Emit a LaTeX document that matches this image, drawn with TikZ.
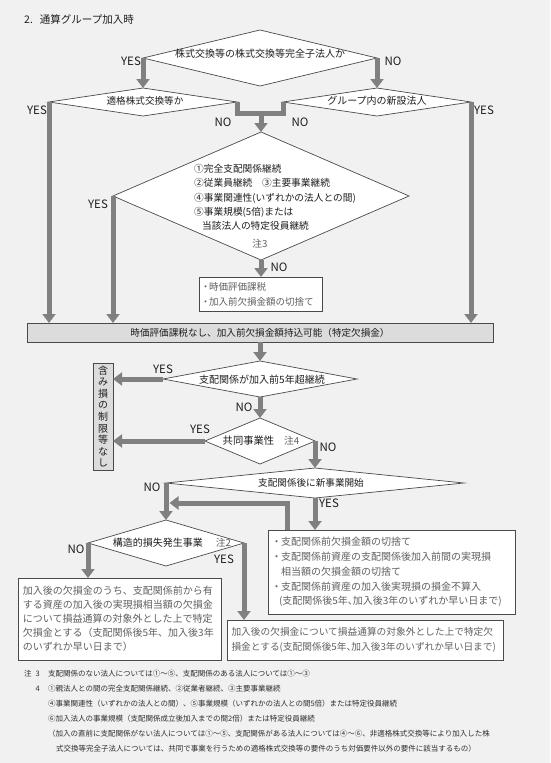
\documentclass[tikz,border=0pt]{standalone}
\usepackage{fontspec}
\setmainfont{Noto Sans CJK JP}
\usetikzlibrary{shapes.geometric,arrows.meta,calc}
\definecolor{bgc}{HTML}{F1F1F1}
\definecolor{arrc}{HTML}{808080}
\definecolor{edgec}{HTML}{4A4A4A}
\definecolor{txtc}{HTML}{1E1E1E}
\definecolor{txtgc}{HTML}{606060}
\definecolor{fnc}{HTML}{2E2E2E}
\definecolor{barc}{HTML}{DCDCDC}
\newcommand{\jfs}[2]{\fontsize{#1}{#2}\selectfont}
\newcommand{\blt}[1]{\makebox[#1][c]{・}}
\newcommand{\hc}{\makebox[0.5em][l]{、}}
\begin{document}
\begin{tikzpicture}[x=1pt,y=-1pt,
  dia/.style={diamond, draw=edgec, line width=0.7pt, fill=white, inner sep=0pt, outer sep=0pt},
  tbox/.style={draw=edgec, line width=0.7pt, fill=white, inner ysep=0pt, outer sep=0pt, align=left, text=txtgc, anchor=north west},
  graybox/.style={draw=edgec, line width=0.7pt, fill=barc, inner sep=0pt, outer sep=0pt, text=txtc},
  pipe/.style={draw=arrc, line width=5pt},
  arr/.style={pipe, -{Triangle[width=13pt,length=9pt]}},
  yn/.style={font=\jfs{11.5}{12}, text=txtc, inner sep=0pt},
  dtext/.style={text=txtc, inner sep=0pt},
  fn/.style={font=\jfs{7.5}{9}, text=fnc, inner sep=0pt, anchor=base west}]
\useasboundingbox (0,0) rectangle (550,763);
\fill[bgc] (0,0) rectangle (550,763);

% title
\node[anchor=west, inner sep=0pt, text=txtc, font=\jfs{10.5}{12}] (title) at (24,19) {2.\hspace{7pt}通算グループ加入時};

% diamonds
\node[dia, minimum width=234pt, minimum height=56pt] (d1) at (260,58) {};
\node[dtext, font=\jfs{10}{11}] (t1) at (260,54) {株式交換等の株式交換等完全子法人か};
\node[dia, minimum width=188pt, minimum height=28pt] (d2) at (143,102) {};
\node[dtext, font=\jfs{9.6}{11}] (t2) at (145,101) {適格株式交換等か};
\node[dia, minimum width=188pt, minimum height=28pt] (d3) at (377,102) {};
\node[dtext, font=\jfs{10}{11}] (t3) at (377,101) {グループ内の新設法人};

\node[dia, minimum width=296pt, minimum height=128pt] (db) at (261,196) {};
\node[dtext, anchor=west, align=left, font=\jfs{9.7}{14.25}] (tb) at (194,197.5)
  {①完全支配関係継続\\②従業員継続　③主要事業継続\\④事業関連性(いずれかの法人との間)\\⑤事業規模(5倍)または\\\hspace*{8pt}当該法人の特定役員継続};
\node[inner sep=0pt, text=txtgc, font=\jfs{9.7}{10}] (n3) at (260,244) {注3};

\node[tbox, inner xsep=3pt, text width=117pt, minimum height=34pt, font=\jfs{9.5}{15}] (b1) at (199,277)
  {\blt{7pt}時価評価課税\\\blt{7pt}加入前欠損金額の切捨て};

% bar
\node[graybox, minimum width=466pt, minimum height=19pt, font=\jfs{9.6}{10}] (bar) at (260,332.5)
  {時価評価課税なし、加入前欠損金額持込可能（特定欠損金）};

% vertical box
\node[graybox, minimum width=20pt, minimum height=107pt, align=center, font=\jfs{10}{11.6}] (vb) at (103,416.5)
  {含\\み\\損\\の\\制\\限\\等\\な\\し};

\node[dia, minimum width=194pt, minimum height=36pt] (d4) at (260,379) {};
\node[dtext, font=\jfs{10}{11}] (t4) at (262,380) {支配関係が加入前5年超継続};
\node[dia, minimum width=110pt, minimum height=46pt] (d5) at (260,441) {};
\node[dtext, font=\jfs{10.3}{11}] (t5) at (261,441) {共同事業性\hspace{10pt}{\color{txtgc}\jfs{9.7}{10}注4}};
\node[dia, minimum width=298pt, minimum height=30pt] (d6) at (315,483) {};
\node[dtext, font=\jfs{9.6}{11}] (t6) at (311,483) {支配関係後に新事業開始};
\node[dia, minimum width=156pt, minimum height=46pt] (d7) at (166,543) {};
\node[dtext, font=\jfs{10}{11}] (t7) at (172,543) {構造的損失発生事業\hspace{13pt}{\color{txtgc}\jfs{9.8}{10}注2}};

% text boxes
\node[tbox, inner xsep=4pt, text width=239pt, minimum height=84pt, font=\jfs{10}{14.75}] (b2) at (268,530)
  {\blt{9pt}支配関係前欠損金額の切捨て\\
   \blt{9pt}支配関係前資産の支配関係後加入前間の実現損\\
   \hspace*{9pt}相当額の欠損金額の切捨て\\
   \blt{9pt}支配関係前資産の加入後実現損の損金不算入\\
   \hspace*{7pt}(支配関係後5年\hc 加入後3年のいずれか早い日まで)};
\node[tbox, inner xsep=5pt, text width=193pt, minimum height=82pt, font=\jfs{10}{14}] (b3) at (18,578)
  {加入後の欠損金のうち、支配関係前から有\\
   する資産の加入後の実現損相当額の欠損金\\
   について損益通算の対象外とした上で特定\\
   欠損金とする（支配関係後5年、加入後3年\\
   のいずれか早い日まで）};
\node[tbox, inner xsep=4.5pt, text width=267pt, minimum height=40pt, font=\jfs{9.7}{15}] (b4) at (227,620)
  {加入後の欠損金について損益通算の対象外とした上で特定欠\\
   損金とする(支配関係後5年\hc 加入後3年のいずれか早い日まで)};

% helper coordinates
\coordinate (ym) at (0,113);
\coordinate (m) at (db.north |- ym);
\coordinate (lp0) at ($(b2.north west)+(19,0)$);
\coordinate (lp) at ($(d6.west)+(3.5,20)$);

% connectors
\draw[arr] (d1.west) -- (d2.north);
\draw[arr] (d1.east) -- (d3.north);
\draw[arr] (d2.west) -- (d2.west |- bar.north);
\draw[arr] (d3.east) -- (d3.east |- bar.north);
\draw[pipe] (d2.east) |- (m) -| (d3.west);
\draw[arr] (m) -- (db.north);
\draw[arr] (db.west) -- (db.west |- bar.north);
\draw[arr] (db.south) -- (db.south |- b1.north);
\draw[arr] (bar.south) -- (d4.north);
\draw[arr] (d4.west) -- (d4.west -| vb.east);
\draw[arr] (d4.south) -- (d5.north);
\draw[arr] (d5.west) -- (d5.west -| vb.east);
\draw[arr] (d5.east) -- (d5.east |- d6.north);
\draw[arr] (d6.west) -- (d6.west |- d7.north);
\draw[arr] (d6.south) -- (d6.south |- b2.north);
\draw[arr] (lp0) |- (lp);
\draw[arr] (d7.west) -- (d7.west |- b3.north);
\draw[arr] (d7.east) -- (d7.east |- b4.north);

% YES / NO labels
\node[yn] (y1) at (131,61) {YES};
\node[yn] (n1) at (393,61) {NO};
\node[yn] (y2) at (37,110) {YES};
\node[yn] (y3) at (484,110) {YES};
\node[yn] (n2) at (223,122) {NO};
\node[yn] (n2b) at (300,122) {NO};
\node[yn] (y4) at (98,204) {YES};
\node[yn] (n4) at (279,267) {NO};
\node[yn] (y5) at (163,369) {YES};
\node[yn] (n5) at (244,407) {NO};
\node[yn] (y6) at (200,429) {YES};
\node[yn] (n6) at (328,447) {NO};
\node[yn] (n7) at (152,487) {NO};
\node[yn] (y7) at (329,503) {YES};
\node[yn] (n8) at (76,549) {NO};
\node[yn] (y8) at (224,559) {YES};

% footnotes
\node[fn, anchor=base east] (fa) at (40,676) {注\hspace{4pt}3};
\node[fn, anchor=base east] (fb) at (40,691) {4};
\node[fn] (f1) at (48,676) {支配関係のない法人については①〜⑤、支配関係のある法人については①〜③};
\node[fn] (f2) at (48,691) {①親法人との間の完全支配関係継続、②従業者継続、③主要事業継続};
\node[fn] (f3) at (48,706) {④事業関連性（いずれかの法人との間）、⑤事業規模（いずれかの法人との間5倍）または特定役員継続};
\node[fn] (f4) at (48,721) {⑥加入法人の事業規模（支配関係成立後加入までの間2倍）または特定役員継続};
\node[fn] (f5) at (48,736) {（加入の直前に支配関係がない法人については①〜⑤、支配関係がある法人については④〜⑥、非適格株式交換等により加入した株};
\node[fn] (f6) at (56,751) {式交換等完全子法人については、共同で事業を行うための適格株式交換等の要件のうち対価要件以外の要件に該当するもの）};
\end{tikzpicture}
\end{document}
